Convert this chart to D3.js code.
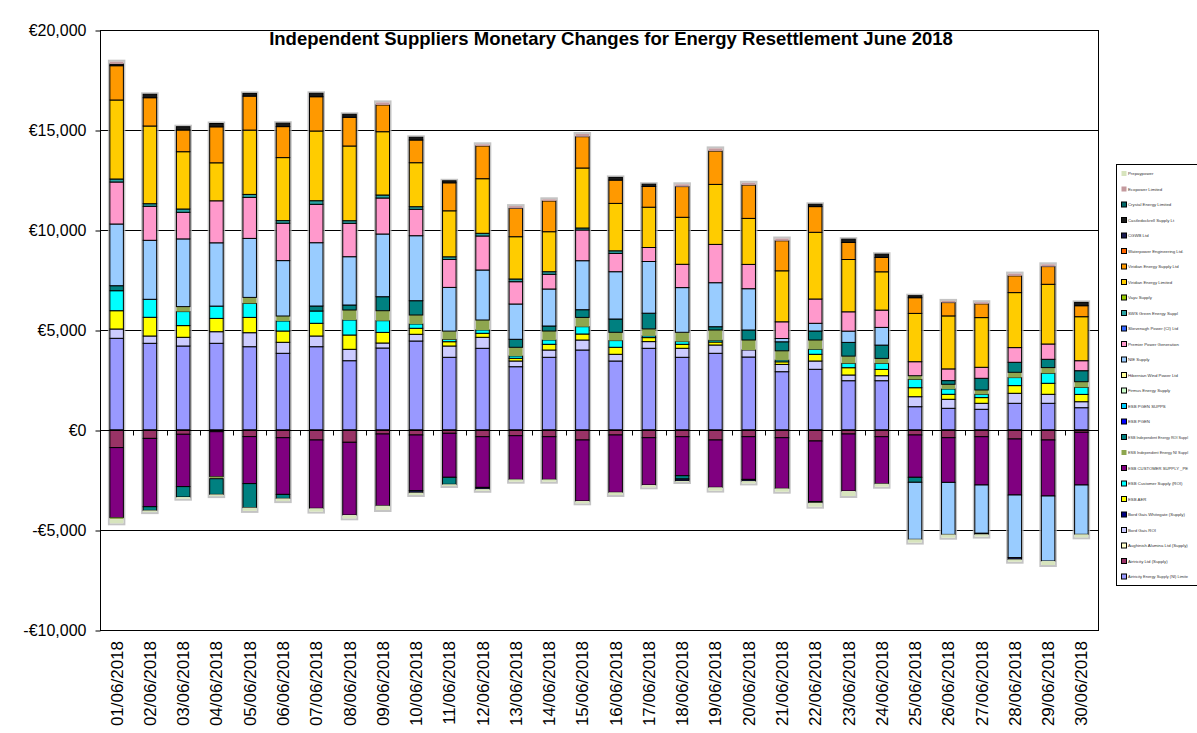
<!DOCTYPE html>
<html><head><meta charset="utf-8">
<script src="https://cdn.jsdelivr.net/npm/d3@7/dist/d3.min.js"></script>
<style>
body{margin:0;background:#fff;}
svg{display:block;font-family:"Liberation Sans",Arial,sans-serif;}
</style>
</head><body>
<svg id="chart" width="1197" height="733"></svg>
<script>
// ---------- DATA ----------
const chartTitle = "Independent Suppliers Monetary Changes for Energy Resettlement June 2018";
const categories = ["01/06/2018","02/06/2018","03/06/2018","04/06/2018","05/06/2018","06/06/2018","07/06/2018","08/06/2018","09/06/2018","10/06/2018",
  "11/06/2018","12/06/2018","13/06/2018","14/06/2018","15/06/2018","16/06/2018","17/06/2018","18/06/2018","19/06/2018","20/06/2018",
  "21/06/2018","22/06/2018","23/06/2018","24/06/2018","25/06/2018","26/06/2018","27/06/2018","28/06/2018","29/06/2018","30/06/2018"];
const yTickValues = [-10000,-5000,0,5000,10000,15000,20000];
const yTickLabels = ["-€10,000","-€5,000","€0","€5,000","€10,000","€15,000","€20,000"];

const seriesNames = [
  "Airtricity Energy Supply (NI) Limite","Airtricity Ltd (Supply)","Aughinish Alumina Ltd (Supply)","Bord Gais ROI",
  "Bord Gais Whitegate (Supply)","ESB AER","ESB Customer Supply (ROI)","ESB CUSTOMER SUPPLY _PE",
  "ESB Independent Energy NI Suppl","ESB Independent Energy ROI Suppl","ESB PGEN","ESB PGEN SUPPS",
  "Firmus Energy Supply","Hibernian Wind Power Ltd","NIE Supply","Premier Power Generation",
  "Slievenagh Power (CI) Ltd","SWS Green Energy Suppl","Vayu Supply","Viridian Energy Limited",
  "Viridian Energy Supply Ltd","Waterpower Engineering Ltd.","CGWB Ltd","Castledockrell Supply Lt",
  "Crystal Energy Limited","Ecopower Limited","Prepaypower"];
const seriesColors = [
  "#9999FF","#993366","#FFFFCC","#CCCCFF",
  "#000080","#FFFF00","#00FFFF","#800080",
  "#8EA64F","#008080","#0000FF","#00CCFF",
  "#CCFFCC","#FFFF99","#99CCFF","#FF99CC",
  "#3366FF","#2AA3A3","#99CC00","#FFCC00",
  "#FF9900","#FF6600","#1A1A50","#1A1A1A",
  "#006666","#C49A9E","#D7E4BD"];
const borderless = ["ESB Independent Energy NI Suppl","Ecopower Limited","Prepaypower"];

const airtricityNI   = [4585,4335,4200,4335,4165,3835,4165,3465,4100,4450,3635,4085,3165,3635,4000,3450,4085,3635,3835,3650,2915,3035,2465,2465,1165,1085,1035,1335,1335,1115];
const airtricityLtd  = [-880,-420,-215,-85,-330,-385,-500,-615,-200,-250,-165,-335,-285,-335,-500,-250,-385,-335,-500,-335,-385,-550,-200,-335,-250,-385,-335,-450,-500,-115];
const aughinish      = [0,0,0,0,0,0,0,0,0,0,0,0,0,0,0,0,0,0,0,0,0,0,0,0,0,0,0,0,0,0];
const bordGaisROI    = [465,365,435,580,700,550,535,570,250,335,565,550,285,365,500,335,335,450,415,350,365,415,285,250,500,450,300,500,450,300];
const bordGaisWhite  = [0,0,0,0,0,0,0,0,0,0,0,0,0,0,0,0,0,0,0,0,0,0,0,0,0,0,0,0,0,0];
const esbAER         = [915,935,585,665,765,565,635,715,530,300,215,200,135,285,300,350,200,200,150,0,130,335,365,315,450,250,285,385,550,365];
const esbCustROI     = [1000,900,700,615,700,500,615,750,585,215,115,165,115,215,365,335,85,135,85,0,85,250,215,300,415,265,165,400,500,350];
const esbCustPE      = [-3500,-3415,-2615,-2250,-2350,-2835,-3415,-3635,-3585,-2785,-2200,-2535,-2185,-2135,-3050,-2865,-2365,-1950,-2365,-2135,-2535,-3035,-2850,-2350,-2115,-2235,-2415,-2800,-2800,-2635];
const esbIndepNI     = [-85,0,250,-100,300,250,0,500,500,450,415,500,435,450,465,415,350,465,515,500,465,465,365,250,185,235,215,265,285,285];
const esbIndepROI    = [250,-185,-520,-785,-1200,-200,250,250,700,715,-350,0,400,250,385,665,785,-165,165,500,450,450,685,665,-250,185,585,500,415,550];
const esbPGEN        = [0,0,0,0,0,0,0,0,0,0,0,0,0,0,0,0,0,0,0,0,0,0,0,0,0,0,0,0,0,0];
const esbPGENSupps   = [0,0,0,0,0,0,0,0,0,0,0,0,0,0,0,0,0,0,0,0,0,0,0,0,0,0,0,0,0,0];
const firmus         = [0,0,0,0,0,0,0,0,0,0,0,0,0,0,0,0,0,0,0,0,0,0,0,0,0,0,0,0,0,0];
const hibernian      = [0,0,0,0,0,0,0,0,0,0,0,0,0,0,0,0,0,0,0,0,0,0,0,0,0,0,0,0,0,0];
const nieSupply      = [3085,2950,3385,3165,2950,2770,3165,2415,3135,3250,2185,2500,1765,1850,2450,2365,2585,2235,2200,2065,165,385,565,885,-2850,-2600,-2415,-3135,-3250,-2465];
const premierPower   = [2100,1700,1330,2100,2050,1870,1920,1670,1800,1320,1400,1700,1115,735,1535,915,700,1165,1915,1215,835,1215,965,865,700,585,550,735,765,500];
const slievenagh     = [0,0,0,0,0,0,0,0,0,0,0,0,0,0,0,0,0,0,0,0,0,0,0,0,0,0,0,0,0,0];
const swsGreen       = [150,130,165,0,150,130,180,130,150,130,130,135,135,130,100,130,0,0,0,0,0,0,0,0,0,0,0,0,0,0];
const vayu           = [0,0,0,0,0,0,0,0,0,0,0,0,0,0,0,0,0,0,0,0,0,0,0,0,0,0,0,0,0,0];
const viridianLtd    = [3950,3885,2865,1900,3215,3150,3485,3735,3165,2200,2300,2730,2115,2000,3000,2370,2015,2350,3000,2300,2550,3335,2615,1915,2415,2650,2485,2750,2985,2200];
const viridianSupply = [1715,1415,1085,1800,1700,1550,1715,1435,1335,1135,1400,1635,1415,1535,1565,1165,1035,1535,1665,1665,1500,1285,850,715,785,665,685,835,885,550];
const waterpower     = [0,0,0,0,0,0,0,0,0,0,0,0,0,0,0,0,0,0,0,0,0,0,0,0,0,0,0,0,0,0];
const cgwb           = [0,0,0,0,0,0,0,0,0,-100,0,-85,0,0,0,0,0,-100,0,-85,0,-50,0,0,0,0,-50,-85,0,0];
const castledockrell = [85,170,165,165,135,170,170,150,0,135,100,0,0,0,0,135,115,0,0,0,0,115,165,165,100,0,0,0,0,165];
const crystal        = [0,0,0,0,0,0,0,0,0,0,0,0,0,0,0,0,0,0,0,0,0,0,0,0,0,0,0,0,0,0];
const ecopower       = [115,0,0,0,0,0,0,0,130,0,0,85,115,85,135,0,0,115,135,115,115,0,0,0,0,85,85,115,115,0];
const prepaypower    = [-200,-85,-85,-85,-165,-135,-165,-165,-215,-115,-85,-85,-115,-115,-115,-135,-115,-50,-165,-115,-165,-200,-250,-150,-165,-165,-115,-115,-200,-150];

const seriesValues = [airtricityNI,airtricityLtd,aughinish,bordGaisROI,bordGaisWhite,esbAER,esbCustROI,esbCustPE,
  esbIndepNI,esbIndepROI,esbPGEN,esbPGENSupps,firmus,hibernian,nieSupply,premierPower,slievenagh,swsGreen,vayu,
  viridianLtd,viridianSupply,waterpower,cgwb,castledockrell,crystal,ecopower,prepaypower];

// ---------- CHART ----------
const svg = d3.select("#chart");
const L = 100, R = 1098, T = 30, B = 630;

const rows = categories.map((c, i) => {
  const r = {date: c};
  seriesNames.forEach((n, j) => r[n] = seriesValues[j][i]);
  return r;
});
const stacked = d3.stack().keys(seriesNames).offset(d3.stackOffsetDiverging)(rows);
const color = d3.scaleOrdinal().domain(seriesNames).range(seriesColors);

const x = d3.scaleBand().domain(categories).range([L, R]).paddingInner(0.594).paddingOuter(0.297);
const y = d3.scaleLinear().domain([-10000, 20000]).range([B, T]);

// gridlines
svg.append("g").selectAll("line").data(yTickValues).join("line")
  .attr("x1", L).attr("x2", R)
  .attr("y1", d => Math.round(y(d)) + 0.5).attr("y2", d => Math.round(y(d)) + 0.5)
  .attr("stroke", "#000").attr("stroke-width", 1);

// plot borders
svg.append("line").attr("x1", L + 0.5).attr("x2", L + 0.5).attr("y1", T).attr("y2", B + 1).attr("stroke", "#000");
svg.append("line").attr("x1", R + 0.5).attr("x2", R + 0.5).attr("y1", T).attr("y2", B + 1).attr("stroke", "#000");

// y axis labels + ticks
const yAxis = d3.axisLeft(y).tickValues(yTickValues).tickSize(5)
  .tickFormat(d => yTickLabels[yTickValues.indexOf(d)]);
const yg = svg.append("g").attr("transform", `translate(${L + 0.5},0.5)`).call(yAxis);
yg.select(".domain").remove();
yg.selectAll("line").attr("stroke", "#000");
yg.selectAll("text").attr("font-size", 16).attr("fill", "#000").attr("x", -14)
  .attr("font-family", "'Liberation Sans',Arial,sans-serif");

// bar halos
const extents = categories.map((c, i) => {
  let lo = 0, hi = 0;
  stacked.forEach(s => { lo = Math.min(lo, s[i][0]); hi = Math.max(hi, s[i][1]); });
  return {date: c, lo, hi};
});
svg.append("g").selectAll("rect").data(extents).join("rect")
  .attr("x", d => x(d.date) - 1).attr("width", x.bandwidth() + 2)
  .attr("y", d => y(d.hi) - 1).attr("height", d => y(d.lo) - y(d.hi) + 2)
  .attr("fill", "none").attr("stroke", "#b5b5b5").attr("stroke-width", 2).attr("opacity", 0.8);

// bars
const layers = svg.append("g").selectAll("g").data(stacked).join("g")
  .attr("fill", d => color(d.key));
layers.each(function(s) {
  const nb = borderless.includes(s.key);
  d3.select(this).selectAll("rect").data(s.filter(d => d[1] - d[0] !== 0)).join("rect")
    .attr("x", d => x(d.data.date))
    .attr("width", x.bandwidth())
    .attr("y", d => y(d[1]))
    .attr("height", d => y(d[0]) - y(d[1]))
    .attr("stroke", nb ? "none" : "#000")
    .attr("stroke-width", 1);
});

// x axis at zero with tick marks between categories
const y0 = Math.round(y(0)) + 0.5;
svg.append("line").attr("x1", L).attr("x2", R).attr("y1", y0).attr("y2", y0).attr("stroke", "#000");
const boundaries = categories.map((c, i) => x(c) - (x.step() - x.bandwidth()) / 2).concat([R]);
svg.append("g").selectAll("line").data(boundaries).join("line")
  .attr("x1", d => Math.round(d) + 0.5).attr("x2", d => Math.round(d) + 0.5)
  .attr("y1", y0).attr("y2", y0 + 5).attr("stroke", "#000");

// category labels at bottom
svg.append("g").selectAll("text").data(categories).join("text")
  .attr("transform", d => `translate(${x(d) + x.bandwidth() / 2 + 6},641) rotate(-90)`)
  .attr("text-anchor", "end")
  .attr("font-size", 17).attr("fill", "#000")
  .text(d => d);

// title
svg.append("text").attr("x", 611).attr("y", 45).attr("text-anchor", "middle")
  .attr("font-size", 18.5).attr("font-weight", "bold").attr("fill", "#000")
  .text(chartTitle);

// legend
const lgX = 1116.5;
const lg = svg.append("g").attr("transform", `translate(${lgX},164.5)`);
lg.append("rect").attr("width", 100).attr("height", 421).attr("fill", "#fff").attr("stroke", "#000");
const legendItems = seriesNames.slice().reverse();
const li = lg.selectAll("g").data(legendItems).join("g")
  .attr("transform", (d, i) => `translate(0,${9 + i * 15.5})`);
li.append("rect").attr("x", 5).attr("y", -2.5).attr("width", 5).attr("height", 5)
  .attr("fill", d => color(d))
  .attr("stroke", d => borderless.includes(d) ? "none" : "#000").attr("stroke-width", 1);
const maxTextW = 1188 - (lgX + 11.5);
li.append("text").attr("x", 11.5).attr("dy", "0.35em").attr("font-size", 4.3).attr("fill", "#333")
  .text(d => d)
  .each(function() {
    const w = this.getComputedTextLength();
    if (w > maxTextW) {
      d3.select(this).attr("textLength", maxTextW).attr("lengthAdjust", "spacingAndGlyphs");
    }
  });
</script>
</body></html>
